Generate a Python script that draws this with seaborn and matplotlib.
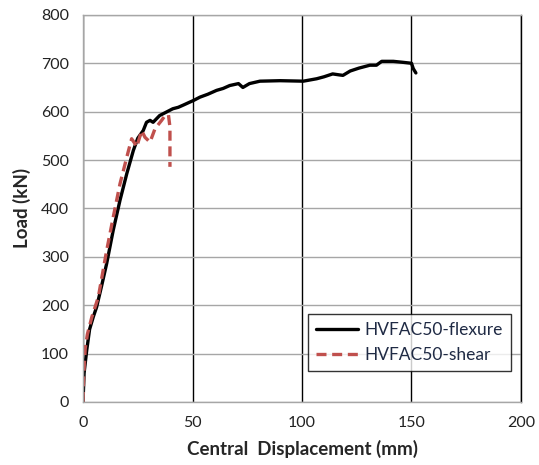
import pandas as pd
import matplotlib.pyplot as plt
import seaborn as sns

# load-displacement readings
flex_x = [0, 0.5, 1.7, 3, 4.7, 6.2, 8.5, 10.8, 13.8, 16.9, 20, 23, 25, 27.5, 29,
          30.6, 32, 35, 38, 41, 43.5, 46, 48.9, 50.4, 53.4, 57, 61, 64, 67, 71,
          73, 76, 80.8, 90, 100.6, 106.7, 110, 114, 117, 118.7, 122, 126, 131,
          134, 136.4, 141.7, 146, 150, 150.8, 152]
flex_y = [0, 60, 107, 150, 176, 196, 240, 286, 355, 417, 472, 520, 545, 561, 578,
          582, 578, 592, 599, 606, 609, 614, 620, 623, 630, 636, 644, 648, 654, 658,
          650, 658, 663, 664, 663, 668, 672, 678, 676, 675, 684, 690, 696,
          696, 704, 704, 702, 700, 689, 680]

shear_x = [0, 0.3, 1, 2, 4, 7, 10.8, 13.8, 16.9, 20, 22.2, 23.7, 24.5, 26.8,
           28.3, 30.6, 32.9, 35.9, 37, 39, 39.7, 39.7]
shear_y = [0, 50, 110, 140, 175, 217, 313, 382, 451, 506, 544, 534, 527, 561,
           547, 537, 565, 582, 589, 594, 568, 486]

series_names = ["HVFAC50-flexure", "HVFAC50-shear"]

df_flex = pd.DataFrame({"disp": flex_x, "load": flex_y})
df_shear = pd.DataFrame({"disp": shear_x, "load": shear_y})

sns.set_style("white")
plt.rcParams['font.family'] = ['Lato', 'DejaVu Sans']

fig = plt.figure(figsize=(5.39, 4.65), dpi=100)
ax = fig.add_axes([0.154, 0.1355, 0.8126, 0.8325])

# black flexure curve, red dashed shear curve
sns.lineplot(data=df_flex, x="disp", y="load", sort=False, estimator=None,
             color="black", lw=2.4, ax=ax, label=series_names[0])
sns.lineplot(data=df_shear, x="disp", y="load", sort=False, estimator=None,
             color="#c0504d", lw=2.4, ax=ax, label=series_names[1])
ax.lines[1].set_dashes((3, 1.7))

ax.set_xlim(0, 200)
ax.set_ylim(0, 800)
ax.set_xticks([0, 50, 100, 150, 200])
ax.set_yticks(range(0, 801, 100))

# gridlines: gray horizontal, black vertical
ax.grid(axis='y', color='#a6a6a6', lw=1)
ax.grid(axis='x', color='black', lw=1)
ax.set_axisbelow(True)
for side in ['left', 'bottom', 'top']:
    ax.spines[side].set_color('#a6a6a6')
    ax.spines[side].set_linewidth(1)
ax.spines['right'].set_color('black')
ax.spines['right'].set_linewidth(1)

ax.tick_params(length=0, labelsize=11.5, colors='#222222', pad=10)
ax.set_xlabel("Central  Displacement (mm)", fontsize=13.5, weight='bold', labelpad=7)
ax.set_ylabel("Load (kN)", fontsize=13.5, weight='bold', labelpad=7)

leg = ax.legend(loc='lower right', bbox_to_anchor=(0.977, 0.08), borderaxespad=0,
                fontsize=12.5, frameon=True, fancybox=False, handlelength=2.4,
                borderpad=0.45, labelspacing=0.55, handletextpad=0.4)
leg.get_frame().set_edgecolor('black')
leg.get_frame().set_linewidth(1)
for t in leg.get_texts():
    t.set_color('#1f2a44')

plt.savefig("out.png", dpi=100)
